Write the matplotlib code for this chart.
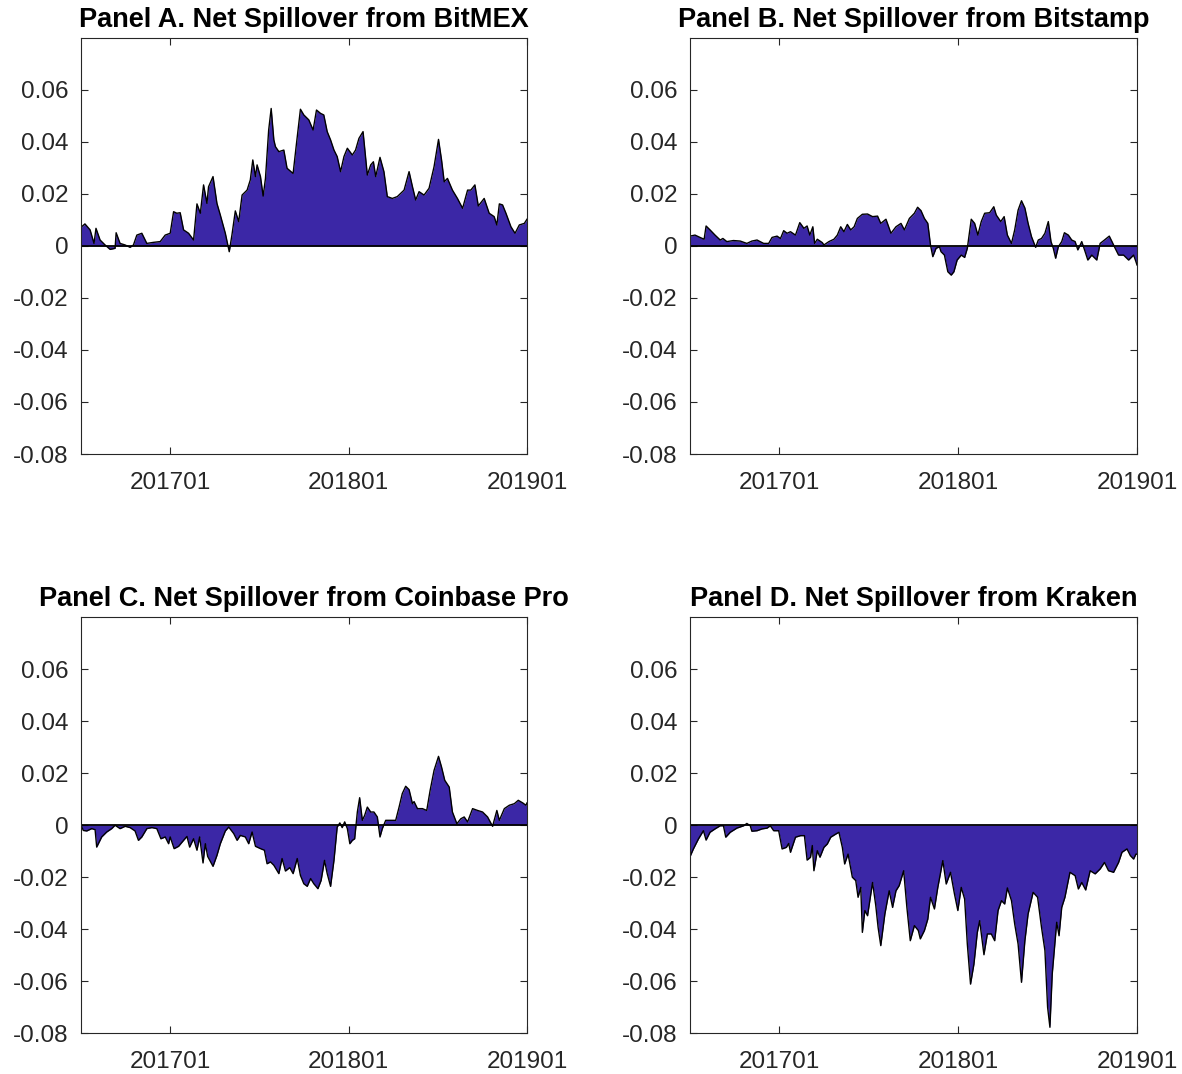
import numpy as np
import matplotlib
matplotlib.use("Agg")
import matplotlib.pyplot as plt

plt.rcParams["font.family"] = ["Liberation Sans", "DejaVu Sans"]

FILL = "#3B27A6"
AXC = "#262626"
START = 2016.5   # x axis starts July 2016

# time in years since 2016-07, values in units of 1e-3
a_t = [0.000, 0.022, 0.051, 0.073, 0.084, 0.107, 0.135, 0.163, 0.191, 0.197, 0.219, 0.247, 0.275, 0.294,
       0.313, 0.341, 0.369, 0.406, 0.444, 0.472, 0.500, 0.519, 0.537, 0.556, 0.575, 0.603, 0.631, 0.650,
       0.669, 0.687, 0.706, 0.715, 0.740, 0.762, 0.781, 0.809, 0.831, 0.846, 0.865, 0.884, 0.903, 0.931,
       0.949, 0.963, 0.978, 0.987, 1.006, 1.021, 1.034, 1.052, 1.066, 1.081, 1.090, 1.109, 1.137, 1.155,
       1.189, 1.208, 1.230, 1.249, 1.277, 1.301, 1.320, 1.343, 1.361, 1.380, 1.399, 1.418, 1.436, 1.455,
       1.474, 1.493, 1.521, 1.539, 1.558, 1.581, 1.605, 1.624, 1.639, 1.652, 1.676, 1.698, 1.717, 1.745,
       1.773, 1.811, 1.839, 1.858, 1.876, 1.895, 1.923, 1.951, 1.979, 2.004, 2.021, 2.036, 2.054, 2.082,
       2.110, 2.139, 2.167, 2.185, 2.208, 2.227, 2.260, 2.288, 2.316, 2.331, 2.345, 2.363, 2.382, 2.410,
       2.433, 2.457, 2.485, 2.500]
a_v = [7.2, 8.5, 6.2, 1.0, 6.8, 2.3, 0.4, -1.3, -0.9, 5.1, 1.0, 0.4, -0.5, 0.4,
       4.2, 4.9, 1.0, 1.4, 1.7, 4.2, 4.9, 13.2, 12.6, 12.8, 6.2, 4.9, 2.3, 16.2,
       12.6, 23.5, 16.4, 22.8, 26.7, 16.4, 11.9, 4.9, -2.2, 4.2, 13.5, 9.4, 19.6, 21.5,
       25.4, 33.1, 26.7, 31.2, 26.7, 19.2, 26.0, 44.6, 52.9, 40.8, 38.2, 36.3, 36.9, 29.9,
       27.9, 39.5, 52.6, 50.4, 48.5, 44.6, 52.3, 51.0, 50.4, 44.0, 40.8, 36.9, 34.4, 28.6,
       34.4, 37.6, 35.0, 36.9, 41.4, 44.0, 27.3, 31.2, 32.4, 26.7, 34.1, 28.6, 19.0, 18.3,
       19.0, 21.5, 28.6, 22.8, 17.7, 20.9, 19.6, 22.2, 30.5, 41.0, 33.1, 24.7, 26.0, 21.5,
       18.3, 14.5, 21.5, 21.5, 23.5, 15.4, 18.3, 12.6, 11.3, 8.1, 16.2, 15.8, 12.6, 7.4,
       4.9, 8.1, 8.7, 10.3]

b_t = [0.000, 0.028, 0.056, 0.079, 0.090, 0.112, 0.140, 0.169, 0.184, 0.206, 0.243, 0.281, 0.318, 0.346,
       0.375, 0.412, 0.440, 0.459, 0.487, 0.506, 0.524, 0.543, 0.562, 0.590, 0.614, 0.637, 0.655, 0.670,
       0.687, 0.697, 0.712, 0.740, 0.749, 0.777, 0.805, 0.824, 0.843, 0.861, 0.880, 0.899, 0.918, 0.936,
       0.964, 0.993, 1.021, 1.049, 1.067, 1.096, 1.124, 1.152, 1.180, 1.199, 1.227, 1.255, 1.273, 1.292,
       1.311, 1.330, 1.345, 1.358, 1.376, 1.395, 1.404, 1.423, 1.442, 1.461, 1.476, 1.494, 1.517, 1.536,
       1.551, 1.573, 1.592, 1.610, 1.629, 1.648, 1.676, 1.699, 1.713, 1.738, 1.757, 1.775, 1.798, 1.816,
       1.835, 1.854, 1.873, 1.891, 1.910, 1.933, 1.948, 1.966, 1.985, 2.004, 2.019, 2.032, 2.045, 2.060,
       2.079, 2.094, 2.116, 2.135, 2.154, 2.169, 2.191, 2.210, 2.225, 2.247, 2.275, 2.294, 2.318, 2.345,
       2.360, 2.378, 2.397, 2.425, 2.453, 2.481, 2.494, 2.500]
b_v = [3.8, 4.2, 3.3, 2.6, 7.7, 6.2, 4.2, 2.3, 2.9, 1.7, 2.1, 1.9, 1.0, 1.9,
       2.3, 1.0, 1.0, 3.3, 3.8, 2.9, 5.9, 4.9, 5.5, 4.2, 9.0, 6.8, 7.7, 4.2,
       7.4, 1.0, 2.6, 1.3, 0.4, 1.7, 2.6, 4.2, 7.4, 5.5, 8.3, 6.2, 7.4, 10.6,
       12.2, 12.3, 11.3, 11.5, 8.7, 10.3, 4.9, 7.4, 8.7, 6.2, 10.6, 12.6, 14.9, 13.6,
       10.6, 8.7, 0.4, -4.1, -0.9, -0.3, -2.2, -3.5, -9.9, -11.2, -9.9, -5.4, -3.5, -4.4,
       -0.9, 10.3, 8.7, 4.2, 9.4, 12.6, 12.8, 15.1, 11.9, 9.4, 11.3, 4.2, 1.0, 6.2,
       13.8, 17.4, 14.6, 8.7, 3.6, -0.5, 2.3, 2.9, 4.9, 9.4, 1.7, -0.9, -4.7, -0.3,
       1.7, 5.1, 4.2, 2.3, 1.7, -1.5, 1.7, -2.2, -5.4, -3.5, -5.4, 1.0, 2.3, 3.8,
       1.7, -0.9, -3.5, -3.5, -5.4, -3.5, -6.0, -7.3]

c_t = [0.000, 0.013, 0.032, 0.060, 0.079, 0.088, 0.116, 0.144, 0.172, 0.191, 0.219, 0.247, 0.275, 0.303,
       0.322, 0.341, 0.369, 0.397, 0.425, 0.448, 0.472, 0.491, 0.500, 0.522, 0.547, 0.575, 0.594, 0.609,
       0.631, 0.650, 0.665, 0.684, 0.697, 0.710, 0.740, 0.762, 0.781, 0.809, 0.828, 0.856, 0.875, 0.893,
       0.921, 0.940, 0.959, 0.978, 1.006, 1.028, 1.043, 1.062, 1.081, 1.109, 1.127, 1.146, 1.170, 1.189,
       1.212, 1.230, 1.249, 1.268, 1.287, 1.305, 1.328, 1.346, 1.365, 1.380, 1.399, 1.418, 1.436, 1.451,
       1.464, 1.478, 1.493, 1.507, 1.521, 1.534, 1.549, 1.562, 1.577, 1.590, 1.605, 1.624, 1.642, 1.661,
       1.676, 1.689, 1.708, 1.736, 1.764, 1.783, 1.801, 1.820, 1.839, 1.858, 1.867, 1.886, 1.914, 1.938,
       1.957, 1.979, 2.004, 2.021, 2.039, 2.064, 2.082, 2.107, 2.129, 2.148, 2.167, 2.195, 2.223, 2.251,
       2.279, 2.307, 2.331, 2.345, 2.373, 2.401, 2.429, 2.451, 2.476, 2.494, 2.500]
c_v = [-0.1, -2.1, -2.3, -1.4, -1.8, -8.5, -4.6, -2.7, -1.4, -0.1, -1.4, -0.5, -1.0, -2.3,
       -5.9, -4.6, -1.4, -1.0, -1.4, -5.3, -4.6, -7.2, -4.6, -9.1, -8.2, -5.9, -4.4, -8.5,
       -5.3, -9.7, -4.6, -14.6, -7.2, -12.1, -15.9, -11.7, -7.2, -2.3, -0.8, -3.3, -5.9, -4.0,
       -4.6, -7.2, -2.7, -8.2, -9.1, -9.7, -14.9, -14.2, -15.5, -18.7, -12.9, -17.7, -16.4, -18.7,
       -12.9, -19.4, -22.6, -23.6, -20.6, -22.6, -24.5, -21.3, -13.6, -18.7, -23.6, -13.6, -0.8, 0.8,
       -1.0, 1.2, -1.4, -7.2, -5.9, -5.3, 5.0, 10.5, 1.8, 3.7, 6.9, 5.0, 5.0, 3.1,
       -4.6, -1.4, 1.8, 1.8, 1.8, 6.9, 12.1, 14.9, 13.6, 8.2, 9.0, 6.3, 6.3, 5.6,
       13.3, 21.0, 26.4, 22.3, 17.2, 14.6, 5.0, 0.5, 2.4, 3.1, 1.2, 6.3, 5.6, 5.0,
       3.1, -0.5, 5.6, 1.8, 6.3, 7.6, 8.2, 9.5, 8.5, 7.6, 8.5]

d_t = [0.000, 0.019, 0.047, 0.075, 0.090, 0.112, 0.140, 0.169, 0.187, 0.200, 0.225, 0.262, 0.300, 0.318,
       0.337, 0.346, 0.375, 0.403, 0.431, 0.449, 0.468, 0.496, 0.515, 0.539, 0.552, 0.562, 0.590, 0.618,
       0.640, 0.655, 0.674, 0.684, 0.693, 0.712, 0.727, 0.749, 0.768, 0.787, 0.815, 0.833, 0.852, 0.865,
       0.884, 0.908, 0.927, 0.940, 0.955, 0.964, 0.978, 0.993, 1.021, 1.039, 1.052, 1.067, 1.090, 1.114,
       1.133, 1.152, 1.170, 1.195, 1.213, 1.232, 1.255, 1.277, 1.288, 1.311, 1.330, 1.345, 1.367, 1.386,
       1.414, 1.433, 1.457, 1.479, 1.498, 1.517, 1.536, 1.551, 1.569, 1.588, 1.607, 1.620, 1.644, 1.663,
       1.685, 1.704, 1.723, 1.742, 1.760, 1.775, 1.798, 1.816, 1.835, 1.854, 1.873, 1.891, 1.919, 1.944,
       1.966, 1.985, 2.000, 2.013, 2.026, 2.051, 2.064, 2.079, 2.097, 2.125, 2.154, 2.172, 2.191, 2.213,
       2.238, 2.266, 2.294, 2.318, 2.341, 2.369, 2.397, 2.416, 2.444, 2.463, 2.481, 2.494, 2.500]
d_v = [-12.2, -9.2, -5.4, -2.2, -5.8, -2.8, -1.5, -0.3, -0.3, -4.7, -2.8, -1.2, -0.3, 0.6,
       -0.3, -2.4, -2.2, -1.5, -1.2, -0.3, -2.2, -2.2, -9.2, -8.6, -7.1, -10.5, -4.7, -4.1,
       -4.1, -13.5, -12.4, -7.9, -17.6, -9.9, -12.4, -8.6, -7.3, -4.7, -3.5, -2.8, -8.6, -15.0,
       -11.2, -20.1, -21.4, -27.8, -24.0, -41.3, -32.9, -34.9, -22.1, -31.0, -39.4, -46.4, -34.2, -25.3,
       -31.7, -25.3, -23.3, -17.6, -31.7, -44.5, -38.7, -40.6, -43.8, -40.6, -36.2, -27.8, -32.3, -24.0,
       -13.7, -22.7, -18.2, -26.5, -32.9, -24.0, -28.5, -45.8, -61.2, -53.5, -41.3, -36.8, -49.9, -41.9,
       -41.9, -44.5, -32.9, -29.1, -30.4, -24.2, -29.1, -38.1, -45.8, -60.5, -44.5, -34.2, -25.9, -27.8,
       -39.4, -48.3, -70.1, -77.8, -57.3, -37.4, -42.6, -31.7, -27.8, -18.2, -19.5, -24.6, -22.1, -25.0,
       -17.6, -18.8, -16.9, -14.4, -17.6, -18.2, -14.4, -10.5, -9.2, -11.8, -13.1, -11.2, -11.2]

titles = ["Panel A. Net Spillover from BitMEX", "Panel B. Net Spillover from Bitstamp",
          "Panel C. Net Spillover from Coinbase Pro", "Panel D. Net Spillover from Kraken"]
series = [(a_t, a_v), (b_t, b_v), (c_t, c_v), (d_t, d_v)]

yticks = [-0.08, -0.06, -0.04, -0.02, 0, 0.02, 0.04, 0.06]
ytick_labels = ["-0.08", "-0.06", "-0.04", "-0.02", "0", "0.02", "0.04", "0.06"]
xticks = [2017, 2018, 2019]
xtick_labels = ["201701", "201801", "201901"]

W, H = 1182, 1074
fig = plt.figure(figsize=(W / 100, H / 100), dpi=100)
# axes boxes in pixels: left, top, right, bottom
boxes = [(81, 38, 527, 454), (690, 38, 1137, 454), (81, 617, 527, 1033), (690, 617, 1137, 1033)]

for (l, t, r, b), (tt, vv), title in zip(boxes, series, titles):
    ax = fig.add_axes([l / W, 1 - b / H, (r - l) / W, (b - t) / H])
    x = START + np.array(tt)
    y = np.array(vv) / 1000.0
    ax.fill_between(x, y, 0, color=FILL, linewidth=0)
    ax.plot(x, y, color="k", lw=1.0)
    ax.axhline(0, color="k", lw=1.3)
    ax.set_xlim(START, 2019.0)
    ax.set_ylim(-0.08, 0.08)
    ax.set_yticks(yticks)
    ax.set_yticklabels(ytick_labels)
    ax.set_xticks(xticks)
    ax.set_xticklabels(xtick_labels)
    ax.tick_params(direction="in", length=5, width=0.8, colors=AXC, labelsize=17.5,
                   top=True, right=True)
    ax.tick_params(axis="y", pad=9)
    ax.tick_params(axis="x", pad=13)
    for s in ax.spines.values():
        s.set_color(AXC)
        s.set_linewidth(0.8)
    ax.set_title(title, fontsize=19.5, fontweight="bold", color="k", pad=8)

fig.savefig("out.png", dpi=100)
